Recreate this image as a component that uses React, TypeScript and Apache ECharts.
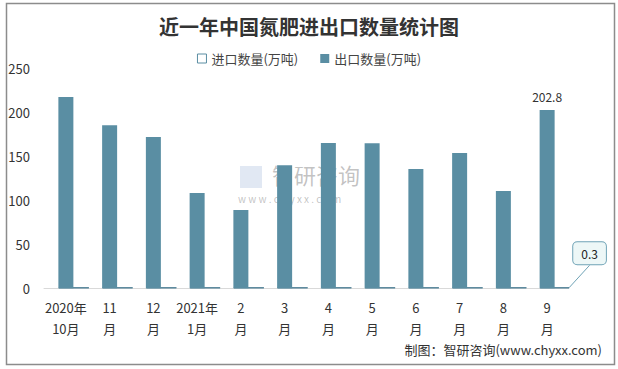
import React, { useEffect, useRef } from "react";
import * as echarts from "echarts";

const categories = ["2020年\n10月", "11\n月", "12\n月", "2021年\n1月", "2\n月", "3\n月", "4\n月", "5\n月", "6\n月", "7\n月", "8\n月", "9\n月"];
const importValues = [0.6, 0.5, 0.8, 0.4, 0.3, 0.5, 0.7, 0.4, 0.5, 0.6, 0.4, 0.3];
const exportValues = [217.5, 185.5, 172, 108.3, 89, 140, 165.2, 165, 135.6, 153.8, 110.6, 202.8];
const seriesNames = ["进口数量(万吨)", "出口数量(万吨)"];
const yTicks = { min: 0, max: 250, interval: 50 };

const FONT = "'Noto Sans CJK SC', 'Noto Sans', sans-serif";

export default function App() {
  const ref = useRef<HTMLDivElement>(null);
  useEffect(() => {
    if (!ref.current) return;
    const chart = echarts.init(ref.current, null, { renderer: "svg" });
    const last = importValues.length - 1;
    chart.setOption({
      animation: false,
      backgroundColor: "#fff",
      textStyle: { fontFamily: FONT },
      title: {
        text: "近一年中国氮肥进出口数量统计图",
        left: "center",
        top: 11,
        textStyle: { fontSize: 20, fontWeight: "bold", color: "#333", fontFamily: FONT },
      },
      legend: {
        top: 47,
        left: "center",
        itemWidth: 9,
        itemHeight: 9,
        itemGap: 22,
        textStyle: { fontSize: 13, color: "#444", fontFamily: FONT },
        data: [
          { name: seriesNames[0], icon: "rect", itemStyle: { color: "#fff", borderColor: "#5a8ea3", borderWidth: 1 } },
          { name: seriesNames[1], icon: "rect" },
        ],
      },
      grid: { left: 44, right: 49, top: 68.5, bottom: 80.7, containLabel: false },
      xAxis: {
        type: "category",
        data: categories,
        axisLine: { lineStyle: { color: "#d9d9d9" } },
        axisTick: { show: false },
        axisLabel: { fontSize: 13, color: "#333", lineHeight: 21, margin: 9, interval: 0, fontFamily: FONT },
      },
      yAxis: {
        type: "value",
        min: yTicks.min,
        max: yTicks.max,
        interval: yTicks.interval,
        axisLine: { show: false },
        axisTick: { show: false },
        splitLine: { show: false },
        axisLabel: { fontSize: 13, color: "#333", margin: 14, fontFamily: FONT },
      },
      series: [
        {
          name: seriesNames[0],
          type: "bar",
          barWidth: 31,
          barGap: "-100%",
          barMinHeight: 1,
          z: 1,
          itemStyle: { color: "#fff", borderColor: "#4f8196", borderWidth: 1 },
          labelLayout: (params: any) =>
            params.dataIndex === last ? { dx: 35, dy: -18 } : {},
          data: importValues.map((v, i) =>
            i === last
              ? {
                  value: v,
                  label: {
                    show: true,
                    position: "top",
                    formatter: "{c}",
                    fontSize: 12,
                    color: "#222",
                    backgroundColor: "#edf7f7",
                    borderColor: "#6fa3b6",
                    borderWidth: 1,
                    borderRadius: 4,
                    padding: [5, 8],
                  },
                  labelLine: { show: true, lineStyle: { color: "#6fa3b6", width: 1 } },
                }
              : v
          ),
        },
        {
          name: seriesNames[1],
          type: "bar",
          barWidth: 15,
          z: 2,
          itemStyle: { color: "#5a8ea3" },
          data: exportValues.map((v, i) =>
            i === last
              ? { value: v, label: { show: true, position: "top", fontSize: 12, color: "#333", distance: 7 } }
              : v
          ),
        },
      ],
      graphic: [
        {
          type: "rect",
          shape: { x: 6.5, y: 3.5, width: 608, height: 361 },
          style: { fill: "none", stroke: "#8c8c8c", lineWidth: 1.5 },
          silent: true,
        },
        {
          type: "text",
          left: 272,
          top: 163,
          style: { text: "智研咨询", fontSize: 22, fill: "rgba(120,120,120,0.45)", fontFamily: FONT },
          silent: true,
        },
        {
          type: "text",
          left: 238,
          top: 193,
          style: { text: "w w w . c h y x x . c o m", fontSize: 10, fill: "rgba(120,120,120,0.45)", fontFamily: FONT },
          silent: true,
        },
        {
          type: "rect",
          shape: { x: 240, y: 166, width: 22, height: 22 },
          style: { fill: "rgba(170,190,220,0.35)" },
          silent: true,
        },
        {
          type: "text",
          right: 16,
          top: 343,
          style: { text: "制图：智研咨询(www.chyxx.com)", fontSize: 13, fill: "#333", fontFamily: FONT },
          silent: true,
        },
      ],
    });
    return () => chart.dispose();
  }, []);
  return <div ref={ref} style={{ position: "fixed", left: 0, top: 0, width: 618, height: 369 }} />;
}
